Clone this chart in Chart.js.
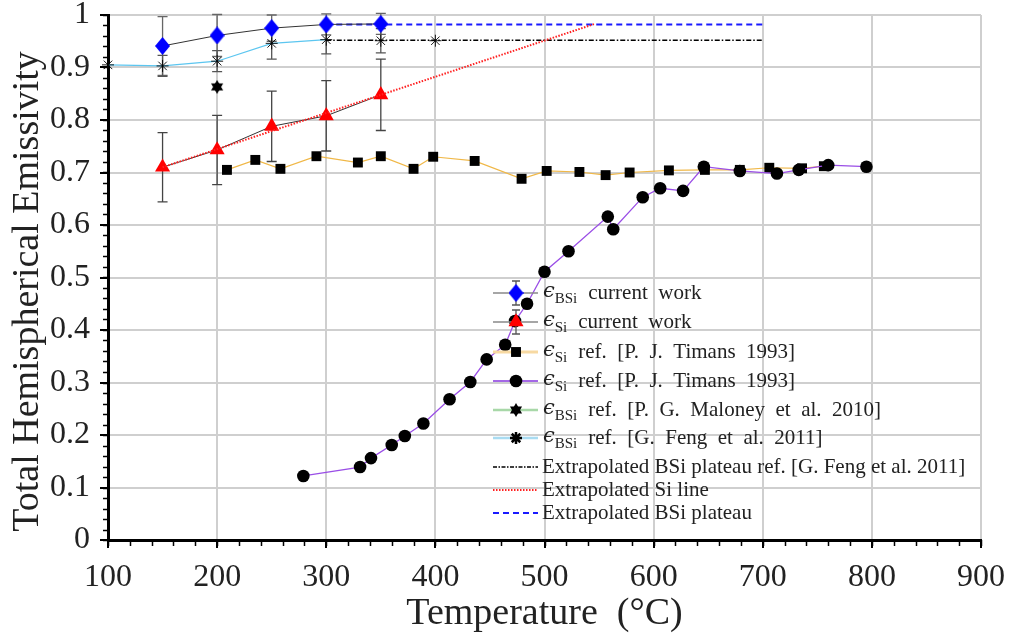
<!DOCTYPE html>
<html>
<head>
<meta charset="utf-8">
<title>Total Hemispherical Emissivity</title>
<script src="https://cdn.jsdelivr.net/npm/chart.js@4.4.1/dist/chart.umd.min.js"></script>
<style>
    html, body { margin: 0; padding: 0; background: #fff; }
    #wrap { width: 1011px; height: 640px; }
</style>
</head>
<body>
<div id="wrap"><canvas id="emissivityChart" width="1011" height="640"></canvas></div>
<script>
/* ---------- Axis tick labels ---------- */
const xTickLabels = ["100", "200", "300", "400", "500", "600", "700", "800", "900"];
const yTickLabels = ["0", "0.1", "0.2", "0.3", "0.4", "0.5", "0.6", "0.7", "0.8", "0.9", "1"];

/* ---------- eps BSi, current work ---------- */
const bsiTemps = [150, 200, 250, 300, 350];
const bsiValues = [0.941, 0.961, 0.975, 0.982, 0.983];
const bsiErrors = [0.056, 0.04, 0.025, 0.02, 0.02];

/* ---------- eps Si, current work ---------- */
const siTemps = [150, 200, 250, 300, 350];
const siValues = [0.71, 0.743, 0.788, 0.808, 0.848];
const siErrors = [0.066, 0.066, 0.067, 0.067, 0.068];

/* ---------- eps Si, Timans 1993 (squares) ---------- */
const timansSqTemps = [209, 235, 258, 291, 329, 350, 380, 398, 436, 479, 502, 532, 556, 578, 614, 647, 679, 706, 736, 756];
const timansSqValues = [0.705, 0.724, 0.707, 0.731, 0.719, 0.731, 0.707, 0.73, 0.722, 0.688, 0.703, 0.701, 0.695, 0.7, 0.704, 0.705, 0.705, 0.709, 0.708, 0.712];

/* ---------- eps Si, Timans 1993 (circles) ---------- */
const timansCircTemps = [279, 331, 341, 360, 372, 389, 413, 432, 447, 464, 473, 484, 500, 522, 558, 563, 590, 606, 627, 646, 679, 713, 733, 760, 795];
const timansCircValues = [0.122, 0.139, 0.156, 0.181, 0.198, 0.222, 0.268, 0.301, 0.344, 0.372, 0.417, 0.45, 0.511, 0.55, 0.616, 0.592, 0.653, 0.67, 0.665, 0.711, 0.703, 0.698, 0.705, 0.714, 0.711];

/* ---------- eps BSi, Maloney 2010 ---------- */
const maloneyTemps = [200];
const maloneyValues = [0.863];

/* ---------- eps BSi, Feng 2011 ---------- */
const fengTemps = [100, 150, 200, 250, 300, 350, 400];
const fengValues = [0.905, 0.903, 0.912, 0.946, 0.953, 0.951, 0.951];
const fengErrors = [0, 0.02, 0.02, 0.03, 0.027, 0.023, 0];

/* ---------- Extrapolations ---------- */
const fengPlateauTemps = [300, 700];
const fengPlateauValues = [0.952, 0.952];
const siLineTemps = [150, 546];
const siLineValues = [0.71, 0.983];
const bsiPlateauTemps = [300, 700];
const bsiPlateauValues = [0.982, 0.982];

const serif = '"Liberation Serif", "Times New Roman", serif';
const textColor = "#222";
const yTitle = "Total Hemispherical Emissivity";

function toPoints(xs, ys) {
    return xs.map((x, i) => ({ x: x, y: ys[i] }));
}

/* ---------- Custom marker shapes ---------- */
function makeDiamond(w, h, color) {
    const c = document.createElement("canvas");
    c.width = w; c.height = h;
    const g = c.getContext("2d");
    g.fillStyle = color;
    g.beginPath();
    g.moveTo(w / 2, 0); g.lineTo(w, h / 2); g.lineTo(w / 2, h); g.lineTo(0, h / 2);
    g.closePath(); g.fill();
    return c;
}

function makeHexagram(size, color) {
    const c = document.createElement("canvas");
    c.width = size; c.height = size;
    const g = c.getContext("2d");
    const r = size / 2, cx = size / 2, cy = size / 2;
    g.fillStyle = color;
    [-Math.PI / 2, Math.PI / 2].forEach(start => {
        g.beginPath();
        for (let k = 0; k < 3; k++) {
            const a = start + k * 2 * Math.PI / 3;
            const px = cx + r * Math.cos(a), py = cy + r * Math.sin(a);
            k === 0 ? g.moveTo(px, py) : g.lineTo(px, py);
        }
        g.closePath(); g.fill();
    });
    return c;
}

const diamondImg = makeDiamond(15, 18, "#0000ff");
const hexImg = makeHexagram(14, "#000");

/* ---------- Error bars ---------- */
const errorGroups = [
    { temps: bsiTemps, values: bsiValues, errs: bsiErrors, color: "#666" },
    { temps: siTemps, values: siValues, errs: siErrors, color: "#444" },
    { temps: fengTemps, values: fengValues, errs: fengErrors, color: "#555" }
];

const errorBarPlugin = {
    id: "errorBars",
    beforeDatasetsDraw(chart) {
        const { ctx, scales: { x, y } } = chart;
        ctx.save();
        ctx.lineWidth = 1.3;
        errorGroups.forEach(g => {
            ctx.strokeStyle = g.color;
            g.temps.forEach((t, i) => {
                const e = g.errs[i];
                if (!e) return;
                const px = x.getPixelForValue(t);
                const top = y.getPixelForValue(g.values[i] + e);
                const bot = y.getPixelForValue(g.values[i] - e);
                ctx.beginPath();
                ctx.moveTo(px, top); ctx.lineTo(px, bot);
                ctx.moveTo(px - 5, top); ctx.lineTo(px + 5, top);
                ctx.moveTo(px - 5, bot); ctx.lineTo(px + 5, bot);
                ctx.stroke();
            });
        });
        ctx.restore();
    }
};

/* ---------- Minor ticks + y title ---------- */
const minorTickPlugin = {
    id: "minorTicks",
    afterDraw(chart) {
        const { ctx, scales: { x, y }, chartArea } = chart;
        ctx.save();
        ctx.strokeStyle = "#000";
        ctx.lineWidth = 1.5;
        ctx.beginPath();
        for (let v = 0; v <= 1.0001; v += 0.02) {
            const py = Math.round(y.getPixelForValue(v)) + 0.5;
            ctx.moveTo(chartArea.left - 5, py); ctx.lineTo(chartArea.left, py);
        }
        for (let t = 100; t <= 900; t += 20) {
            const px = Math.round(x.getPixelForValue(t)) + 0.5;
            ctx.moveTo(px, chartArea.bottom); ctx.lineTo(px, chartArea.bottom + 6);
        }
        ctx.stroke();

        // y axis title, a bit below the plot centre as in the figure
        ctx.translate(28, (chartArea.top + chartArea.bottom) / 2 + 14);
        ctx.rotate(-Math.PI / 2);
        ctx.font = "38px " + serif;
        ctx.fillStyle = textColor;
        ctx.textAlign = "center";
        ctx.textBaseline = "middle";
        ctx.fillText(yTitle, 0, 0);
        ctx.restore();
    }
};

/* ---------- Legend (drawn by hand for the subscripts) ---------- */
const legendRows = [
    { kind: "err", line: "#888", marker: { pointStyle: diamondImg, radius: 8 }, fill: "#00f", sub: "BSi", rest: "current  work" },
    { kind: "err", line: "#888", marker: { pointStyle: "triangle", radius: 8.7 }, fill: "#f00", sub: "Si", rest: "current  work" },
    { kind: "pt", line: "#f7d9a2", lw: 3, marker: { pointStyle: "rect", radius: 7 }, fill: "#000", sub: "Si", rest: "ref.  [P.  J.  Timans  1993]" },
    { kind: "pt", line: "#a468e6", lw: 2, marker: { pointStyle: "circle", radius: 6.3 }, fill: "#000", sub: "Si", rest: "ref.  [P.  J.  Timans  1993]" },
    { kind: "pt", line: "#a8d8a8", lw: 2.5, marker: { pointStyle: hexImg, radius: 7 }, fill: "#000", sub: "BSi", rest: "ref.  [P.  G.  Maloney  et  al.  2010]" },
    { kind: "pt", line: "#a9dcf2", lw: 2.5, marker: { pointStyle: "star", radius: 6 }, fill: "#000", sub: "BSi", rest: "ref.  [G.  Feng  et  al.  2011]" },
    { kind: "dash", line: "#000", lw: 1.5, dash: [4, 1.5, 1.5, 1.5], text: "Extrapolated BSi plateau ref. [G. Feng et al. 2011]" },
    { kind: "dash", line: "#ff2020", lw: 2, dash: [1.5, 1.5], text: "Extrapolated Si line" },
    { kind: "dash", line: "#1a1aff", lw: 2, dash: [6, 4], text: "Extrapolated BSi plateau" }
];
const legendRowY = [293, 322, 352, 381, 410, 438, 467, 490, 513];

const legendPlugin = {
    id: "handLegend",
    afterDraw(chart) {
        const ctx = chart.ctx;
        const x0 = 493, x1 = 538, xm = 516, tx = 543;
        ctx.save();
        ctx.textBaseline = "middle";
        ctx.fillStyle = textColor;
        legendRows.forEach((row, i) => {
            const yy = legendRowY[i];
            ctx.save();
            ctx.strokeStyle = row.line;
            ctx.lineWidth = row.lw || 1.5;
            ctx.setLineDash(row.dash || []);
            ctx.beginPath(); ctx.moveTo(x0, yy); ctx.lineTo(x1, yy); ctx.stroke();
            ctx.setLineDash([]);
            if (row.kind === "err") {
                ctx.strokeStyle = "#555"; ctx.lineWidth = 1.3;
                ctx.beginPath();
                ctx.moveTo(xm, yy - 12); ctx.lineTo(xm, yy + 12);
                ctx.moveTo(xm - 4, yy - 12); ctx.lineTo(xm + 4, yy - 12);
                ctx.moveTo(xm - 4, yy + 12); ctx.lineTo(xm + 4, yy + 12);
                ctx.stroke();
            }
            if (row.marker) {
                ctx.fillStyle = row.fill; ctx.strokeStyle = "#000";
                Chart.helpers.drawPoint(ctx, { pointStyle: row.marker.pointStyle, radius: row.marker.radius, rotation: 0, borderWidth: row.marker.pointStyle === "star" ? 0.9 : 0 }, xm, yy);
            }
            ctx.restore();
            ctx.fillStyle = textColor;
            if (row.text) {
                ctx.font = "21px " + serif;
                ctx.fillText(row.text, tx - 1, yy);
            } else {
                ctx.font = "italic 21px \"DejaVu Serif\", serif";
                ctx.fillText("ϵ", tx, yy - 1);
                const we = ctx.measureText("ϵ").width;
                ctx.font = "15px " + serif;
                ctx.fillText(row.sub, tx + we, yy + 6);
                const ws = ctx.measureText(row.sub).width;
                ctx.font = "21px " + serif;
                ctx.fillText(row.rest, tx + we + ws + 11, yy);
            }
        });
        ctx.restore();
    }
};

/* ---------- Chart ---------- */
const ctx = document.getElementById("emissivityChart");

const emissivityChart = new Chart(ctx, {
    type: "scatter",
    data: {
        datasets: [
            {
                label: "eps BSi current work",
                data: toPoints(bsiTemps, bsiValues),
                showLine: true,
                borderColor: "#333",
                borderWidth: 1,
                pointStyle: diamondImg,
                pointRadius: 8,
                order: 1
            },
            {
                label: "eps Si current work",
                data: toPoints(siTemps, siValues),
                showLine: true,
                borderColor: "#333",
                borderWidth: 1,
                pointStyle: "triangle",
                pointRadius: 8.7,
                pointBackgroundColor: "#ff0000",
                pointBorderWidth: 0,
                order: 1
            },
            {
                label: "eps Si Timans squares",
                data: toPoints(timansSqTemps, timansSqValues),
                showLine: true,
                borderColor: "#f0b848",
                borderWidth: 1.2,
                pointStyle: "rect",
                pointRadius: 7,
                pointBackgroundColor: "#000",
                pointBorderWidth: 0,
                order: 3
            },
            {
                label: "eps Si Timans circles",
                data: toPoints(timansCircTemps, timansCircValues),
                showLine: true,
                borderColor: "#9a4ee6",
                borderWidth: 1.3,
                pointStyle: "circle",
                pointRadius: 6.3,
                pointBackgroundColor: "#000",
                pointBorderWidth: 0,
                order: 2
            },
            {
                label: "eps BSi Maloney",
                data: toPoints(maloneyTemps, maloneyValues),
                showLine: false,
                pointStyle: hexImg,
                pointRadius: 7,
                order: 1
            },
            {
                label: "eps BSi Feng",
                data: toPoints(fengTemps, fengValues),
                showLine: true,
                borderColor: "#5cc6f0",
                borderWidth: 1.2,
                segment: {
                    borderColor: c => c.p0.parsed.x >= 300 ? "rgba(0,0,0,0)" : "#5cc6f0"
                },
                pointStyle: "star",
                pointRadius: 6,
                pointBorderColor: "#000",
                pointBorderWidth: 0.9,
                clip: false,
                order: 1
            },
            {
                label: "Extrapolated BSi plateau ref Feng",
                data: toPoints(fengPlateauTemps, fengPlateauValues),
                showLine: true,
                borderColor: "#000",
                borderWidth: 1.5,
                borderDash: [5, 2, 1.5, 2],
                pointRadius: 0,
                order: 5
            },
            {
                label: "Extrapolated Si line",
                data: toPoints(siLineTemps, siLineValues),
                showLine: true,
                borderColor: "#ff2020",
                borderWidth: 2,
                borderDash: [1.5, 1.5],
                pointRadius: 0,
                order: 0
            },
            {
                label: "Extrapolated BSi plateau",
                data: toPoints(bsiPlateauTemps, bsiPlateauValues),
                showLine: true,
                borderColor: "#1a1aff",
                borderWidth: 2,
                borderDash: [6, 4],
                pointRadius: 0,
                order: 5
            }
        ]
    },
    options: {
        responsive: false,
        animation: false,
        layout: { padding: { top: 15, right: 30, left: 0, bottom: 0 } },
        plugins: {
            legend: { display: false },
            tooltip: { enabled: false }
        },
        scales: {
            x: {
                type: "linear",
                min: 100,
                max: 900,
                ticks: {
                    stepSize: 100,
                    color: textColor,
                    font: { family: serif, size: 32 },
                    padding: 10,
                    maxRotation: 0,
                    callback: (v, i) => xTickLabels[i]
                },
                grid: { color: "#cfcfcf", lineWidth: 2, tickLength: 8, tickColor: "#000", tickWidth: 2 },
                border: { color: "#000", width: 3 },
                title: {
                    display: true,
                    text: "Temperature  (°C)",
                    color: textColor,
                    font: { family: serif, size: 38, lineHeight: 1 },
                    padding: { top: 0, bottom: 7 }
                },
                afterFit(s) { s.height = 100; s.paddingLeft = 0; s.paddingRight = 0; }
            },
            y: {
                type: "linear",
                min: 0,
                max: 1,
                ticks: {
                    stepSize: 0.1,
                    color: textColor,
                    font: { family: serif, size: 32 },
                    padding: 10,
                    callback: (v, i) => yTickLabels[i]
                },
                grid: { color: "#cfcfcf", lineWidth: 2, tickLength: 8, tickColor: "#000", tickWidth: 2 },
                border: { color: "#000", width: 3 },
                afterFit(s) { s.width = 108; s.paddingTop = 0; s.paddingBottom = 0; }
            }
        }
    },
    plugins: [errorBarPlugin, minorTickPlugin, legendPlugin]
});
</script>
</body>
</html>
